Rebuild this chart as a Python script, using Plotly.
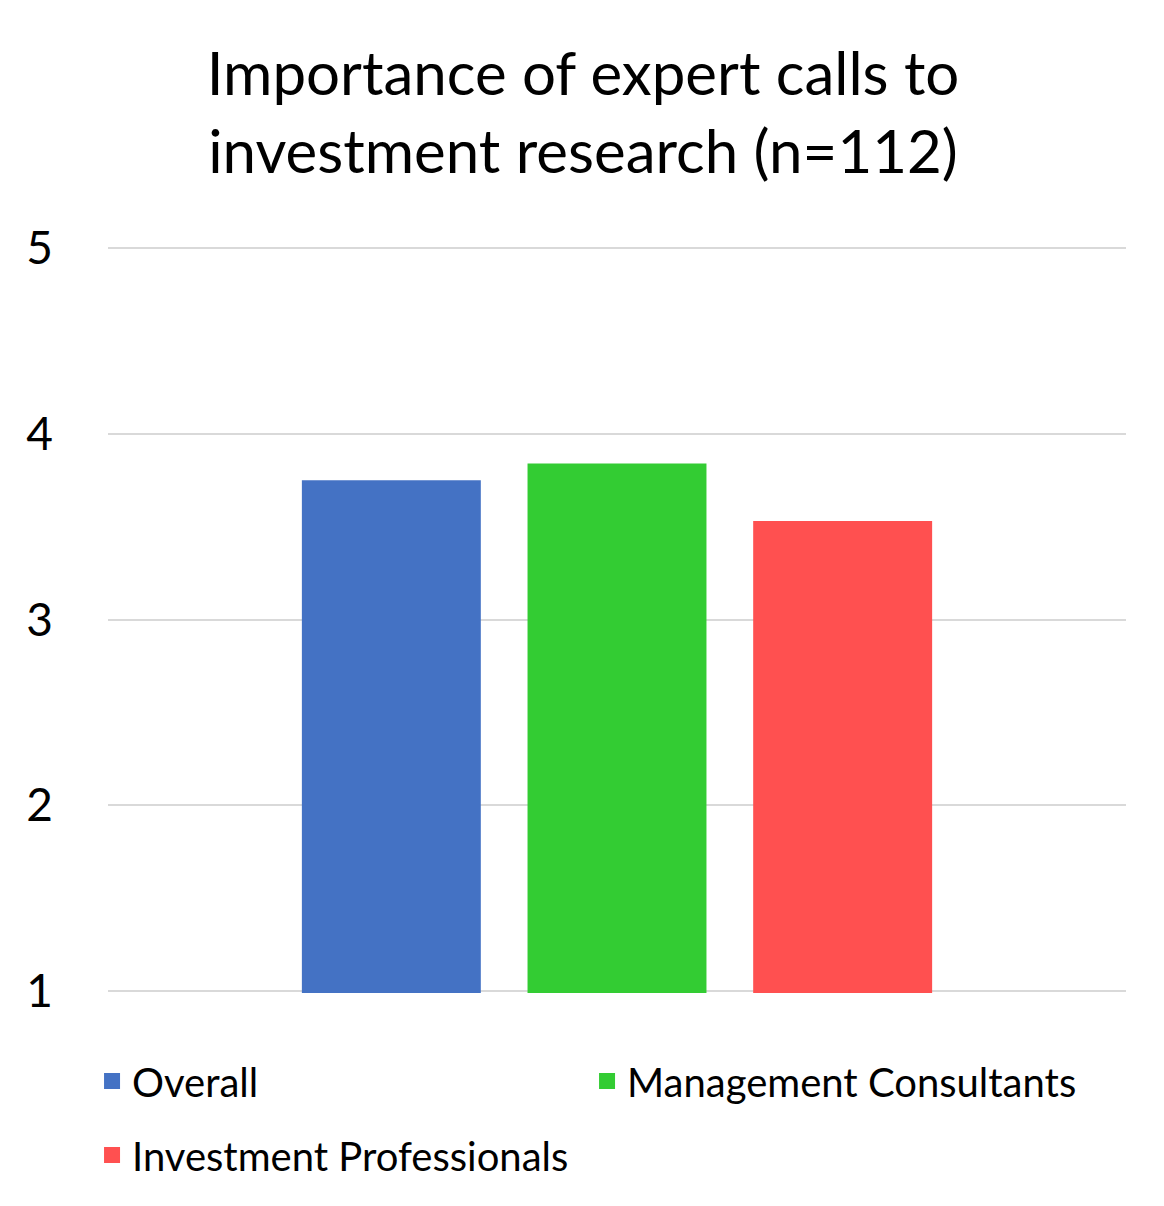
import plotly.graph_objects as go

# Survey result: mean importance score (1-5 scale)
category = ['']
series_names = ['Overall', 'Management Consultants', 'Investment Professionals']
series_values = [3.75, 3.84, 3.53]
series_colors = ['#4472C4', '#33CC33', '#FF5050']
legend_slots = ['legend', 'legend', 'legend2']
y_ticks = [1, 2, 3, 4, 5]

FONT = 'Lato'

fig = go.Figure()
for name, val, color, leg in zip(series_names, series_values, series_colors, legend_slots):
    fig.add_trace(go.Bar(
        x=category, y=[val], name=name, legendgroup=name, showlegend=False,
        marker=dict(color=color, line=dict(width=0)),
    ))
    # legend-only entry so the swatch can be a bigger square
    fig.add_trace(go.Scatter(
        x=[None], y=[None], mode='markers', name=name, legendgroup=name, legend=leg,
        marker=dict(symbol='square', size=16, color=color),
    ))

legend_common = dict(
    orientation='h', xref='container', yref='container',
    x=0.0722, xanchor='left', yanchor='middle',
    font=dict(size=40, family=FONT, color='black'),
    itemsizing='trace', entrywidth=450, entrywidthmode='pixels',
)

fig.update_layout(
    width=1164, height=1206,
    paper_bgcolor='white', plot_bgcolor='white',
    font=dict(family=FONT, color='black'),
    title=dict(
        text='Importance of expert calls to<br>investment research (n=112)',
        xref='container', yref='container',
        x=0.494, xanchor='center', y=0.928, yanchor='top',
        font=dict(size=60, family=FONT, color='black'),
    ),
    margin=dict(l=100, r=46, t=238, b=221),
    barmode='group', bargap=0.335, bargroupgap=0.207,
    showlegend=True,
    legend=dict(y=0.1103, **legend_common),
    legend2=dict(y=0.0489, **legend_common),
    xaxis=dict(showticklabels=False, showgrid=False, zeroline=False, showline=False),
    yaxis=dict(
        range=[0.99, 5.01], tickvals=y_ticks, showgrid=True, gridcolor='#D9D9D9', gridwidth=2,
        zeroline=False, showline=False, ticklabelstandoff=54,
        tickfont=dict(size=46, family=FONT, color='black'),
    ),
)

fig.write_html('out.html')
